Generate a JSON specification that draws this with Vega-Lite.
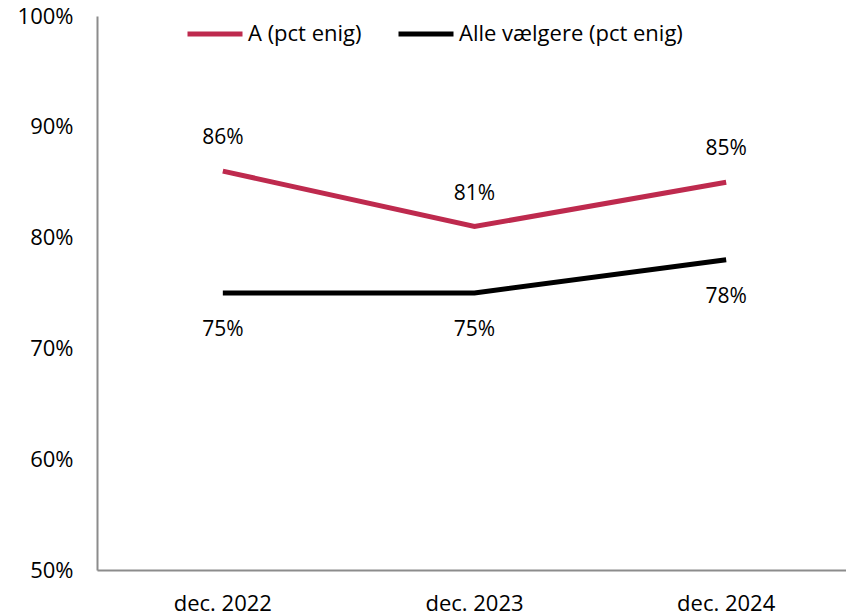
{
  "$schema": "https://vega.github.io/schema/vega-lite/v6.json",
  "width": 755,
  "height": 554,
  "autosize": {"type": "none"},
  "padding": {"left": 97, "top": 16, "right": 0, "bottom": 46},
  "background": "white",
  "config": {
    "view": {"stroke": null},
    "font": "Open Sans",
    "axis": {"grid": false, "domainColor": "#8c8c8c", "domainWidth": 2, "ticks": false, "labelFont": "Open Sans", "labelFontSize": 22, "labelColor": "#000", "title": null}
  },
  "data": {
    "values": [
      {"date": "dec. 2022", "series": "A (pct enig)", "value": 0.86},
      {"date": "dec. 2023", "series": "A (pct enig)", "value": 0.81},
      {"date": "dec. 2024", "series": "A (pct enig)", "value": 0.85},
      {"date": "dec. 2022", "series": "Alle vælgere (pct enig)", "value": 0.75},
      {"date": "dec. 2023", "series": "Alle vælgere (pct enig)", "value": 0.75},
      {"date": "dec. 2024", "series": "Alle vælgere (pct enig)", "value": 0.78}
    ]
  },
  "encoding": {
    "x": {"field": "date", "type": "nominal", "scale": {"type": "band", "paddingInner": 0, "paddingOuter": 0}, "axis": {"labelAngle": 0, "labelPadding": 23, "labelBaseline": "top"}},
    "y": {"field": "value", "type": "quantitative", "scale": {"domain": [0.5, 1], "nice": false, "zero": false}, "axis": {"format": ".0%", "values": [0.5, 0.6, 0.7, 0.8, 0.9, 1.0], "labelPadding": 24, "labelBaseline": "middle"}}
  },
  "layer": [
    {
      "mark": {"type": "line", "strokeWidth": 5, "strokeCap": "butt"},
      "encoding": {
        "color": {"field": "series", "type": "nominal", "scale": {"domain": ["A (pct enig)", "Alle vælgere (pct enig)"], "range": ["#BE2A4E", "#000000"]},
          "legend": {"title": null, "orient": "none", "legendX": 88, "legendY": -12, "direction": "horizontal", "symbolType": "stroke", "symbolStrokeWidth": 5, "symbolSize": 3025, "labelFontSize": 22, "labelFont": "Open Sans", "labelColor": "#000", "labelOffset": 3, "columnPadding": 26, "labelLimit": 400}}
      }
    },
    {
      "transform": [{"filter": "datum.series == 'A (pct enig)'"}],
      "mark": {"type": "text", "dy": -33, "fontSize": 21, "font": "Open Sans", "color": "#000"},
      "encoding": {"text": {"field": "value", "type": "quantitative", "format": ".0%"}}
    },
    {
      "transform": [{"filter": "datum.series != 'A (pct enig)'"}],
      "mark": {"type": "text", "dy": 37, "fontSize": 21, "font": "Open Sans", "color": "#000"},
      "encoding": {"text": {"field": "value", "type": "quantitative", "format": ".0%"}}
    }
  ]
}
